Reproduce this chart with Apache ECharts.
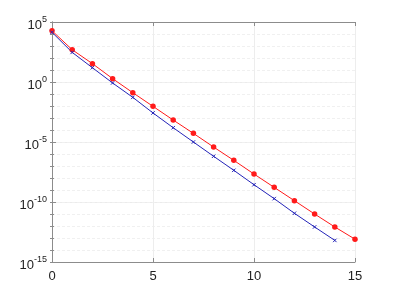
<!DOCTYPE html>
<html><head><meta charset="utf-8">
<script src="https://cdn.jsdelivr.net/npm/echarts@6/dist/echarts.min.js"></script>
<style>html,body{margin:0;padding:0;background:#fff}#c{width:393px;height:295px}</style>
</head><body><div id="c"></div>
<script>
var xRed = [0,1,2,3,4,5,6,7,8,9,10,11,12,13,14,15];
var redExp = [4.27,2.69,1.53,0.28,-0.89,-2.03,-3.17,-4.28,-5.42,-6.53,-7.67,-8.78,-9.89,-11.0,-12.08,-13.1];
var xBlue = [0,1,2,3,4,5,6,7,8,9,10,11,12,13,14];
var blueExp = [4.14,2.47,1.19,-0.08,-1.28,-2.58,-3.81,-5.0,-6.19,-7.36,-8.56,-9.72,-10.94,-12.08,-13.2];
var yTickExps = [-15,-10,-5,0,5];
var xTicks = [0,5,10,15];

function pts(xs, es){ return xs.map(function(x,i){ return [x, Math.pow(10, es[i])]; }); }
var axisCol = '#8c8c8c';
var font = 'Liberation Sans, Helvetica, Arial, sans-serif';
var chart = echarts.init(document.getElementById('c'));
var common = {type:'log', logBase:10, min:1e-15, max:1e5};
chart.setOption({
  animation:false,
  grid:{left:52,right:38,top:22,bottom:33},
  xAxis:[{
    type:'value', min:0, max:15, interval:5, position:'bottom',
    axisLine:{show:true, lineStyle:{color:axisCol}},
    axisTick:{show:true, inside:true, length:4, lineStyle:{color:axisCol}},
    axisLabel:{color:'#222', fontSize:13, fontFamily:font, margin:8},
    splitLine:{show:true, lineStyle:{color:'#ededed', width:1}}
  },{
    type:'value', min:0, max:15, interval:5, position:'top',
    axisLine:{show:true, lineStyle:{color:axisCol}},
    axisTick:{show:true, inside:true, length:4, lineStyle:{color:axisCol}},
    axisLabel:{show:false}, splitLine:{show:false}
  }],
  yAxis:[Object.assign({}, common, {
    position:'left', interval:5,
    axisLine:{show:true, lineStyle:{color:axisCol}},
    axisTick:{show:true, inside:true, length:4, lineStyle:{color:axisCol}},
    axisLabel:{
      margin:5, fontFamily:font,
      formatter:function(v){ var e=Math.round(Math.log10(v)); return '{b|10}{s|'+e+'}'; },
      rich:{b:{fontSize:13, color:'#222', fontFamily:font, padding:[6,0,0,0]}, s:{fontSize:9, color:'#222', fontFamily:font, padding:[0,0,4,0]}}
    },
    splitLine:{show:true, lineStyle:{color:'#ebebeb', width:1}}
  }), Object.assign({}, common, {
    position:'right', interval:1,
    axisLine:{show:true, lineStyle:{color:axisCol}},
    axisTick:{show:true, inside:true, length:2, lineStyle:{color:axisCol}},
    axisLabel:{show:false},
    splitLine:{show:true, lineStyle:{color:'#f0f0f0', width:1, type:[3,2]}}
  }), Object.assign({}, common, {
    position:'left', interval:1,
    axisLine:{show:false},
    axisTick:{show:true, inside:true, length:2, lineStyle:{color:axisCol}},
    axisLabel:{show:false}, splitLine:{show:false}
  })],
  series:[{
    type:'line', data:pts(xRed, redExp), yAxisIndex:0,
    symbol:'circle', symbolSize:5.5,
    lineStyle:{color:'#ff1a1a', width:1},
    itemStyle:{color:'#ff1a1a'}
  },{
    type:'line', data:pts(xBlue, blueExp), yAxisIndex:0,
    symbol:'path://M0,0L10,10M10,0L0,10', symbolSize:3.5,
    lineStyle:{color:'#2424b8', width:1},
    itemStyle:{color:'none', borderColor:'#2424b8', borderWidth:1}
  }]
});
</script></body></html>
